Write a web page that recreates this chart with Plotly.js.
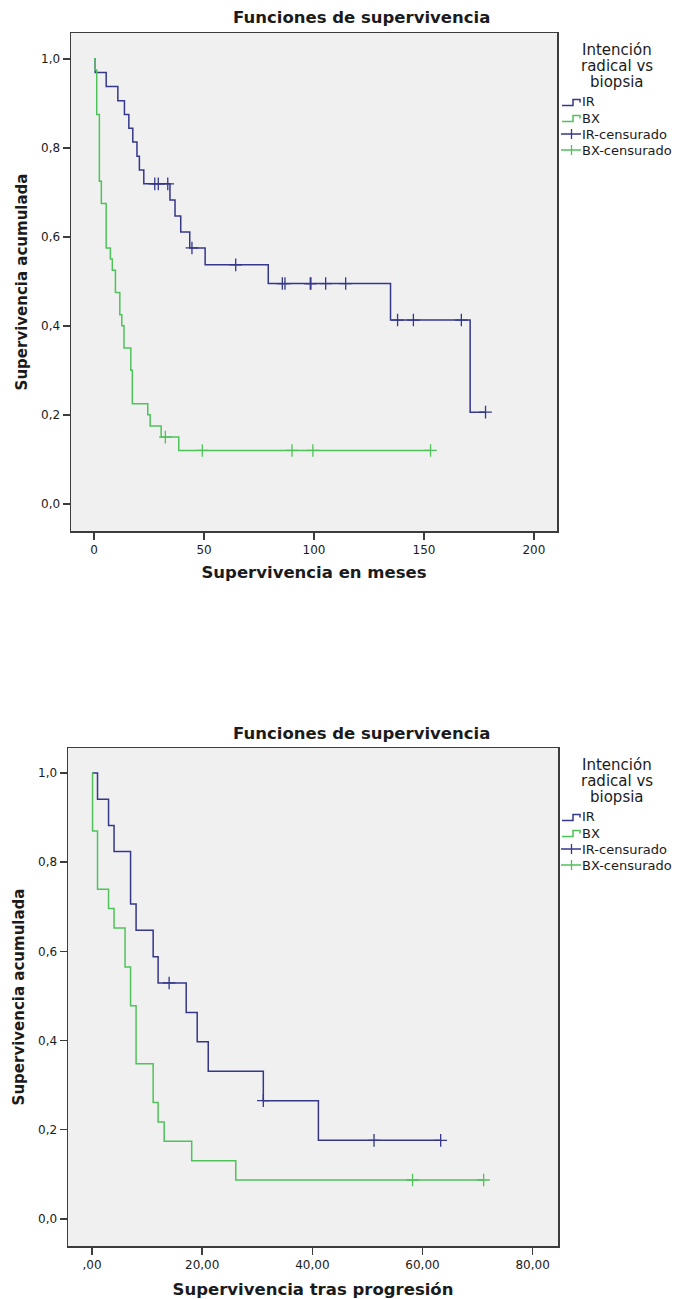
<!DOCTYPE html>
<html>
<head>
<meta charset="utf-8">
<script src="https://cdn.plot.ly/plotly-3.0.1.min.js"></script>
<style>
  body { margin: 0; background: #ffffff; }
  #km1 { position: absolute; left: 0; top: 0; width: 676px; height: 650px; }
  #km2 { position: absolute; left: 0; top: 650px; width: 676px; height: 649px; }
</style>
</head>
<body>
<div id="km1"></div>
<div id="km2"></div>
<script>
// ---- Overall survival (months) ----
const mesesIR  = [0.5, 5.5, 10.8, 13.8, 15.8, 17.6, 19.5, 20.6, 22.6, 34.5, 36.8, 39.4, 43.5, 50.5, 79.2, 134.8, 171.0];
const survIR   = [0.969, 0.938, 0.906, 0.875, 0.844, 0.813, 0.781, 0.750, 0.719, 0.683, 0.647, 0.611, 0.575, 0.537, 0.495, 0.413, 0.206];
const censIR   = [27.6, 29.2, 33.5, 44.5, 64.4, 85.6, 86.8, 98.3, 98.6, 105.3, 114.4, 138.0, 145.2, 167.0, 178.0];

const mesesBX  = [0.5, 1.2, 2.4, 3.3, 5.5, 7.4, 8.3, 9.7, 11.7, 12.6, 13.6, 16.7, 17.4, 24.4, 25.5, 30.5, 38.5];
const survBX   = [0.975, 0.875, 0.725, 0.675, 0.575, 0.550, 0.525, 0.475, 0.425, 0.400, 0.350, 0.300, 0.225, 0.200, 0.175, 0.150, 0.120];
const censBX   = [32.4, 49.2, 90.0, 99.5, 153.0];

// ---- Survival after progression ----
const progIR   = [1.0, 3.0, 4.0, 7.0, 8.0, 11.1, 12.0, 17.1, 19.1, 21.1, 31.1, 41.1];
const survPIR  = [0.941, 0.882, 0.824, 0.706, 0.647, 0.588, 0.529, 0.463, 0.397, 0.331, 0.265, 0.176];
const censPIR  = [14.0, 31.1, 51.2, 63.3];

const progBX   = [0.1, 1.0, 3.0, 4.0, 6.0, 7.0, 8.0, 11.1, 12.0, 13.1, 18.1, 26.1];
const survPBX  = [0.870, 0.739, 0.696, 0.652, 0.565, 0.478, 0.348, 0.261, 0.217, 0.174, 0.130, 0.087];
const censPBX  = [58.2, 71.1];

// ---- Ticks and labels ----
const yTickVals   = [0, 0.2, 0.4, 0.6, 0.8, 1.0];
const yTickText   = ['0,0', '0,2', '0,4', '0,6', '0,8', '1,0'];
const xTickVals1  = [0, 50, 100, 150, 200];
const xTickText1  = ['0', '50', '100', '150', '200'];
const xTickVals2  = [0, 20, 40, 60, 80];
const xTickText2  = [',00', '20,00', '40,00', '60,00', '80,00'];
const legendTitle = ['Intención', 'radical vs', 'biopsia'];
const groupNames  = ['IR', 'BX'];

const NAVY  = '#34378a';
const GREEN = '#4fc25a';
const INK   = '#1b1b1b';
const FRAME = '#3c3c3c';
const FONT  = 'DejaVu Sans, Verdana, sans-serif';

// Kaplan-Meier step curve: starts at 1, steps at each event, runs on to the last follow-up
function stepCurve(times, surv, cens) {
  const last = Math.max(times[times.length - 1], cens.length ? cens[cens.length - 1] : 0);
  return {
    x: [0].concat(times, [last]),
    y: [1].concat(surv, [surv[surv.length - 1]])
  };
}
function survAt(t, times, surv) {
  let s = 1;
  for (let i = 0; i < times.length; i++) if (times[i] <= t) s = surv[i];
  return s;
}
function groupTraces(times, surv, cens, color) {
  const c = stepCurve(times, surv, cens);
  return [
    { x: c.x, y: c.y, mode: 'lines', line: { shape: 'hv', color: color, width: 1.5 },
      hoverinfo: 'x+y', showlegend: false },
    { x: cens, y: cens.map(t => survAt(t, times, surv)), mode: 'markers',
      marker: { symbol: 'cross-thin', size: 9, color: color, line: { color: color, width: 1.3 } },
      hoverinfo: 'x+y', showlegend: false }
  ];
}

function axisStyle(extra) {
  return Object.assign({
    showgrid: false, zeroline: false,
    showline: true, mirror: true, linecolor: FRAME, linewidth: 1.5,
    ticks: 'outside', ticklen: 7, tickwidth: 1.5, tickcolor: FRAME,
    tickfont: { family: FONT, size: 12, color: INK },
    fixedrange: true
  }, extra);
}

// Legend drawn beside the plot area: title lines, step icons and censor icons
function legendDecor(margin, H, titleY, itemY) {
  const W = 676;
  const pw = W - margin.l - margin.r, ph = H - margin.t - margin.b;
  const px = v => (v - margin.l) / pw;
  const py = v => 1 - (v - margin.t) / ph;
  const ann = [], shapes = [];
  legendTitle.forEach((line, i) => ann.push({
    text: line, xref: 'paper', yref: 'paper', x: px(617), y: py(titleY + i * 16),
    xanchor: 'center', yanchor: 'middle', showarrow: false,
    font: { family: FONT, size: 15, color: INK }
  }));
  const items = [
    { label: groupNames[0], color: NAVY, kind: 'step' },
    { label: groupNames[1], color: GREEN, kind: 'step' },
    { label: groupNames[0] + '-censurado', color: NAVY, kind: 'cens' },
    { label: groupNames[1] + '-censurado', color: GREEN, kind: 'cens' }
  ];
  items.forEach((it, i) => {
    const yc = itemY + i * 16;
    ann.push({
      text: it.label, xref: 'paper', yref: 'paper', x: px(580), y: py(yc),
      xanchor: 'left', yanchor: 'middle', showarrow: false,
      font: { family: FONT, size: 13, color: INK }
    });
    if (it.kind === 'step') {
      shapes.push({
        type: 'path', xref: 'paper', yref: 'paper',
        path: 'M ' + px(562) + ',' + py(yc + 3.5) + ' L ' + px(573) + ',' + py(yc + 3.5) +
              ' L ' + px(573) + ',' + py(yc - 2.5) + ' L ' + px(580) + ',' + py(yc - 2.5) +
              ' L ' + px(580) + ',' + py(yc + 0.5),
        line: { color: it.color, width: 1.5 }
      });
    } else {
      shapes.push({ type: 'line', xref: 'paper', yref: 'paper',
        x0: px(561), x1: px(581), y0: py(yc), y1: py(yc), line: { color: it.color, width: 1.5 } });
      shapes.push({ type: 'line', xref: 'paper', yref: 'paper',
        x0: px(571.5), x1: px(571.5), y0: py(yc - 5), y1: py(yc + 5), line: { color: it.color, width: 1.3 } });
    }
  });
  return { ann, shapes };
}

function makeLayout(o) {
  const deco = legendDecor(o.margin, o.height, o.titleY, o.itemY);
  return {
    width: 676, height: o.height,
    margin: o.margin,
    paper_bgcolor: '#ffffff', plot_bgcolor: '#f0f0f0',
    showlegend: false,
    title: {
      text: '<b>Funciones de supervivencia</b>', x: 233 / 676, xanchor: 'left',
      y: 1 - o.headY / o.height, yanchor: 'middle', yref: 'container',
      font: { family: FONT, size: 16.5, color: INK }
    },
    xaxis: axisStyle({
      range: o.xRange, tickvals: o.xTickVals, ticktext: o.xTickText,
      title: { text: '<b>' + o.xTitle + '</b>', standoff: o.xStandoff, font: { family: FONT, size: 16.5, color: INK } }
    }),
    yaxis: axisStyle({
      range: o.yRange, tickvals: yTickVals, ticktext: yTickText,
      title: { text: '<b>Supervivencia acumulada</b>', standoff: 10, font: { family: FONT, size: 15, color: INK } }
    }),
    annotations: deco.ann,
    shapes: deco.shapes
  };
}

const cfg = { responsive: false, displayModeBar: false, staticPlot: true };

Plotly.newPlot('km1',
  groupTraces(mesesIR, survIR, censIR, NAVY).concat(groupTraces(mesesBX, survBX, censBX, GREEN)),
  makeLayout({
    height: 650, margin: { l: 71, r: 119, t: 33, b: 119, pad: 0 },
    headY: 17, titleY: 50, itemY: 102, xStandoff: 10,
    xRange: [-10.5, 210.5], yRange: [-0.061, 1.058],
    xTickVals: xTickVals1, xTickText: xTickText1, xTitle: 'Supervivencia en meses'
  }), cfg);

Plotly.newPlot('km2',
  groupTraces(progIR, survPIR, censPIR, NAVY).concat(groupTraces(progBX, survPBX, censPBX, GREEN)),
  makeLayout({
    height: 649, margin: { l: 68, r: 118, t: 98, b: 53, pad: 0 },
    headY: 83, titleY: 115, itemY: 167, xStandoff: 12,
    xRange: [-4.36, 84.6], yRange: [-0.061, 1.056],
    xTickVals: xTickVals2, xTickText: xTickText2, xTitle: 'Supervivencia tras progresión'
  }), cfg);
</script>
</body>
</html>
